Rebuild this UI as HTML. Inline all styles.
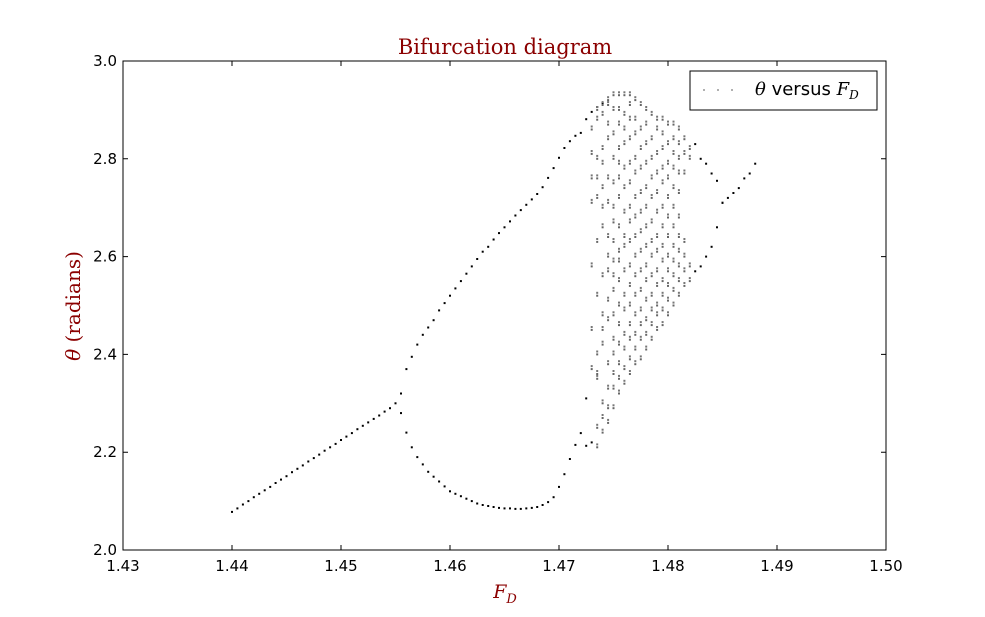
<!DOCTYPE html>
<html><head><meta charset="utf-8"><style>
body{margin:0;background:#fff;width:985px;height:612px;overflow:hidden}
svg text{font-family:"DejaVu Sans","Liberation Sans",sans-serif}
</style></head><body>
<svg id="chart" width="985" height="612" viewBox="0 0 985 612" xmlns="http://www.w3.org/2000/svg">
<rect width="985" height="612" fill="#fff"/>
<text x="505" y="54" text-anchor="middle" font-size="21" fill="#8b0000" style="font-family:'DejaVu Serif','Liberation Serif',serif">Bifurcation diagram</text>
<g id="ticks"></g>
<g id="marks"></g>
<rect x="123" y="61" width="763" height="489" fill="none" stroke="#000" stroke-width="1"/>
<text x="505" y="598" text-anchor="middle" font-size="19" fill="#8b0000" style="font-family:'DejaVu Serif','Liberation Serif',serif;font-style:italic">F<tspan font-size="13" dy="5">D</tspan></text>
<text transform="translate(80,306) rotate(-90)" text-anchor="middle" font-size="20" fill="#8b0000" style="font-family:'DejaVu Serif','Liberation Serif',serif"><tspan font-style="italic">θ</tspan> (radians)</text>
<g>
<rect x="690" y="71" width="187" height="39" fill="#fff" stroke="#000" stroke-width="1"/>
<circle cx="704" cy="90" r="0.9" fill="#777"/><circle cx="718" cy="90" r="0.9" fill="#777"/><circle cx="732" cy="90" r="0.9" fill="#777"/>
<text x="755" y="95" font-size="18"><tspan style="font-family:'DejaVu Serif',serif;font-style:italic">θ</tspan> versus <tspan style="font-family:'DejaVu Serif',serif;font-style:italic">F</tspan><tspan font-size="12" dy="4" style="font-family:'DejaVu Serif',serif;font-style:italic">D</tspan></text>
</g>
</svg>
<script>
const xTicks=[1.43,1.44,1.45,1.46,1.47,1.48,1.49,1.50];
const yTicks=[2.0,2.2,2.4,2.6,2.8,3.0];
// period-1 branch: F_D from 1.4400 step 0.0005
const p1Start=1.44;
const p1Theta=[2.078,2.085,2.093,2.100,2.108,2.115,2.122,2.129,2.137,2.144,2.151,2.159,2.166,2.173,2.181,2.188,2.195,2.203,2.210,2.217,2.225,2.232,2.239,2.247,2.254,2.261,2.268,2.275,2.283,2.290,2.300];
// period-2 branches from 1.4555 step 0.0005
const p2Start=1.4555;
const p2Upper=[2.32,2.37,2.395,2.42,2.44,2.455,2.47,2.49,2.505,2.52,2.535,2.55,2.565,2.58,2.595,2.61,2.62,2.635,2.648,2.66,2.672,2.684,2.695,2.706,2.717,2.728,2.742,2.761,2.781,2.802,2.822,2.836,2.847,2.853,2.881,2.896,2.906,2.914];
const p2Lower=[2.28,2.24,2.21,2.19,2.175,2.16,2.15,2.14,2.13,2.12,2.115,2.11,2.105,2.10,2.095,2.092,2.09,2.088,2.086,2.085,2.085,2.084,2.084,2.085,2.086,2.088,2.092,2.098,2.108,2.129,2.155,2.186,2.215,2.239,2.213,2.22];
// isolated point
const isoF=[1.4725];
const isoTheta=[2.31];
// right side after chaos, from 1.4825
const rStart=1.4825;
const rUpper=[2.83,2.80,2.79,2.77,2.755,2.71];
const rLower=[2.57,2.58,2.60,2.62,2.66,2.71,2.72,2.73,2.74,2.76,2.77,2.79];
// chaotic band columns, from 1.4730 step 0.0005
const cStart=1.473;
const chaos=[
[2.37,2.45,2.58,2.71,2.76,2.81,2.86],
[2.21,2.25,2.35,2.36,2.40,2.52,2.63,2.72,2.76,2.80,2.88,2.90],
[2.24,2.27,2.30,2.42,2.45,2.48,2.56,2.66,2.70,2.74,2.79,2.82,2.89,2.91],
[2.26,2.29,2.33,2.38,2.47,2.51,2.57,2.60,2.64,2.71,2.76,2.84,2.87,2.91,2.92],
[2.29,2.33,2.36,2.40,2.43,2.48,2.53,2.56,2.59,2.63,2.67,2.70,2.75,2.80,2.85,2.90,2.93],
[2.32,2.35,2.38,2.42,2.46,2.50,2.55,2.59,2.61,2.66,2.72,2.76,2.79,2.82,2.87,2.90,2.93],
[2.34,2.37,2.41,2.44,2.49,2.52,2.57,2.62,2.64,2.69,2.74,2.78,2.83,2.86,2.89,2.93],
[2.36,2.39,2.43,2.46,2.50,2.54,2.58,2.63,2.67,2.70,2.75,2.79,2.84,2.88,2.91,2.93],
[2.38,2.41,2.44,2.48,2.52,2.56,2.60,2.64,2.68,2.72,2.77,2.80,2.85,2.88,2.92],
[2.39,2.43,2.46,2.49,2.53,2.57,2.61,2.65,2.69,2.73,2.78,2.82,2.86,2.91],
[2.41,2.44,2.47,2.51,2.55,2.58,2.62,2.66,2.70,2.74,2.79,2.83,2.87,2.90],
[2.43,2.46,2.49,2.52,2.56,2.60,2.63,2.67,2.72,2.76,2.80,2.84,2.89],
[2.45,2.48,2.50,2.54,2.57,2.61,2.64,2.69,2.73,2.77,2.81,2.86,2.88],
[2.46,2.49,2.52,2.55,2.59,2.62,2.66,2.70,2.75,2.78,2.82,2.85,2.88],
[2.48,2.51,2.54,2.57,2.60,2.64,2.68,2.72,2.76,2.79,2.83,2.87],
[2.50,2.53,2.56,2.59,2.62,2.66,2.70,2.74,2.78,2.81,2.84,2.87],
[2.52,2.55,2.58,2.61,2.64,2.68,2.73,2.77,2.80,2.83,2.86],
[2.54,2.57,2.60,2.63,2.77,2.81,2.84],
[2.55,2.58,2.80,2.82]
];
const step=0.0005;
const X0=123,X1=886,Y0=550,Y1=61;
function xs(v){return X0+(v-1.43)/(1.50-1.43)*(X1-X0);}
function ys(v){return Y0-(v-2.0)/(3.0-2.0)*(Y0-Y1);}
const NS="http://www.w3.org/2000/svg";
const tg=document.getElementById('ticks'),mg=document.getElementById('marks');
xTicks.forEach(t=>{
 const x=xs(t);
 const l=document.createElementNS(NS,'path');
 l.setAttribute('d',`M${x},${Y0}v-5M${x},${Y1}v5`);l.setAttribute('stroke','#000');
 
 
 tg.appendChild(l);
 const tx=document.createElementNS(NS,'text');
 tx.setAttribute('x',x);tx.setAttribute('y',571);tx.setAttribute('text-anchor','middle');tx.setAttribute('font-size','15');
 tx.textContent=t.toFixed(2);
 
 
 tg.appendChild(tx);
});
yTicks.forEach(t=>{
 const y=ys(t);
 const l=document.createElementNS(NS,'path');
 l.setAttribute('d',`M${X0},${y}h5M${X1},${y}h-5`);l.setAttribute('stroke','#000');
 
 
 tg.appendChild(l);
 const tx=document.createElementNS(NS,'text');
 tx.setAttribute('x',117);tx.setAttribute('y',y+5);tx.setAttribute('text-anchor','end');tx.setAttribute('font-size','15');
 tx.textContent=t.toFixed(1);
 
 
 tg.appendChild(tx);
});
function dot(fd,th,col,name){
 const r=document.createElementNS(NS,'rect');
 r.setAttribute('x',(xs(fd)-1).toFixed(1));r.setAttribute('y',(ys(th)-1).toFixed(1));
 r.setAttribute('width',2);r.setAttribute('height',2);r.setAttribute('fill',col);
 
 
 mg.appendChild(r);
}
p1Theta.forEach((v,i)=>dot(p1Start+i*step,v,'#000','point-period1'));
p2Upper.forEach((v,i)=>dot(p2Start+i*step,v,'#000','point-upper-branch'));
p2Lower.forEach((v,i)=>dot(p2Start+i*step,v,'#000','point-lower-branch'));
isoTheta.forEach((v,i)=>dot(isoF[i],v,'#000','point-isolated'));
rUpper.forEach((v,i)=>dot(rStart+i*step,v,'#000','point-right-upper'));
rLower.forEach((v,i)=>dot(rStart+i*step,v,'#000','point-right-lower'));
chaos.forEach((col,i)=>col.forEach(v=>{
 dot(cStart+i*step,v,'#666','point-chaotic');
 dot(cStart+i*step,v+0.006,'#777','point-chaotic');
}));
</script>
</body></html>
